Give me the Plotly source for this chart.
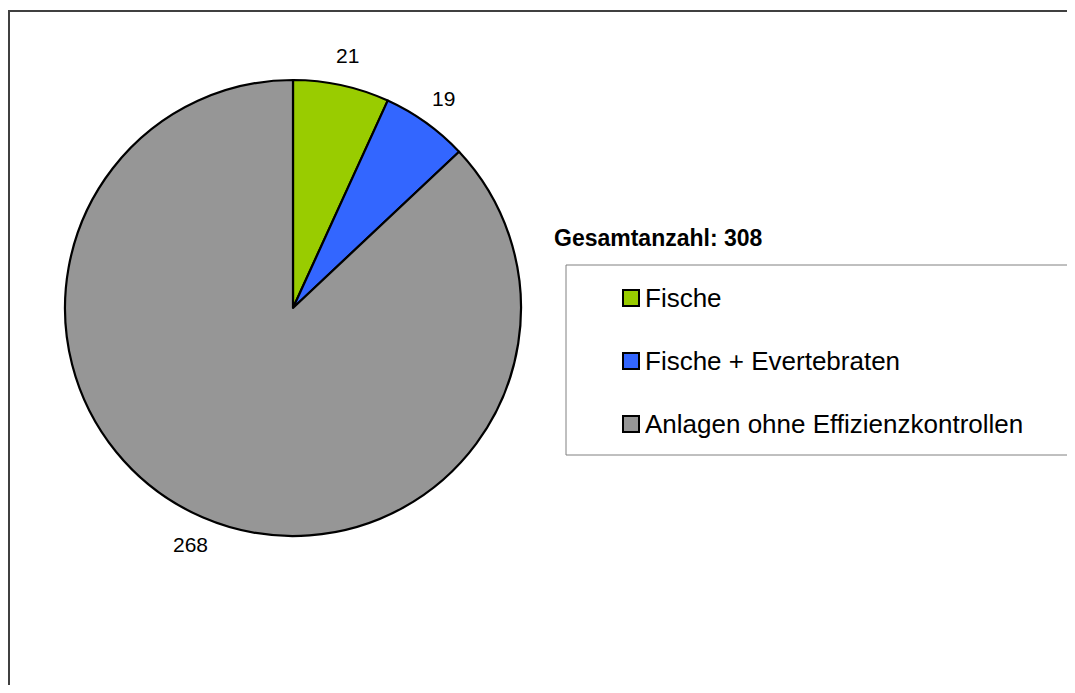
import math
import plotly.graph_objects as go

categories = ["Fische", "Fische + Evertebraten", "Anlagen ohne Effizienzkontrollen"]
values = [21, 19, 268]
colors = ["#99CC00", "#3366FF", "#969696"]
total_label = "Gesamtanzahl"

# the page body has an 8px default margin; the figure is laid out to compensate
OFF = 8
W, H = 1075 - 2 * OFF, 693 - 2 * OFF
FONT = "Liberation Sans, Arial, sans-serif"

cx, cy, R = 293, 308, 228

def px_x(x):
    return (x - OFF) / W

def px_y(y):
    return 1 - (y - OFF) / H

fig = go.Figure(go.Pie(
    labels=categories,
    values=values,
    sort=False,
    direction="clockwise",
    rotation=0,
    marker=dict(colors=colors, line=dict(color="black", width=2.2)),
    textinfo="none",
    hoverinfo="label+value",
    showlegend=False,
    domain=dict(x=[px_x(cx - R), px_x(cx + R)], y=[px_y(cy + R), px_y(cy - R)]),
))

shapes = []
annotations = []

# outer chart border
shapes.append(dict(type="rect", xref="paper", yref="paper",
                   x0=px_x(9), x1=px_x(1100), y0=px_y(720), y1=px_y(11),
                   line=dict(color="#404040", width=2), fillcolor="rgba(0,0,0,0)"))

# value labels placed at slice mid-angles
tot = sum(values)
cum = 0
label_r = R + 30
for v in values:
    mid = (cum + v / 2) / tot * 2 * math.pi
    cum += v
    lx = cx + label_r * math.sin(mid)
    ly = cy - label_r * math.cos(mid)
    annotations.append(dict(x=px_x(lx), y=px_y(ly), xref="paper", yref="paper",
                            text=str(v), showarrow=False,
                            font=dict(family=FONT, size=21, color="black"),
                            xanchor="center", yanchor="middle"))

# total title
annotations.append(dict(x=px_x(552), y=px_y(238), xref="paper", yref="paper",
                        text=f"<b>{total_label}: {tot}</b>", showarrow=False,
                        font=dict(family=FONT, size=23, color="black"),
                        xanchor="left", yanchor="middle"))

# legend box
shapes.append(dict(type="rect", xref="paper", yref="paper",
                   x0=px_x(566), x1=px_x(1100), y0=px_y(455), y1=px_y(265),
                   line=dict(color="#808080", width=1), fillcolor="rgba(0,0,0,0)"))

leg_y0, leg_dy = 298, 63
for i, (cat, col) in enumerate(zip(categories, colors)):
    yc = leg_y0 + i * leg_dy
    shapes.append(dict(type="rect", xref="paper", yref="paper",
                       x0=px_x(623), x1=px_x(639), y0=px_y(yc + 8), y1=px_y(yc - 8),
                       line=dict(color="black", width=2), fillcolor=col))
    annotations.append(dict(x=px_x(643), y=px_y(yc), xref="paper", yref="paper",
                            text=cat, showarrow=False,
                            font=dict(family=FONT, size=26, color="black"),
                            xanchor="left", yanchor="middle"))

fig.update_layout(
    width=W, height=H,
    margin=dict(l=0, r=0, t=0, b=0),
    paper_bgcolor="white", plot_bgcolor="white",
    shapes=shapes, annotations=annotations,
)

fig.write_html("out.html")
